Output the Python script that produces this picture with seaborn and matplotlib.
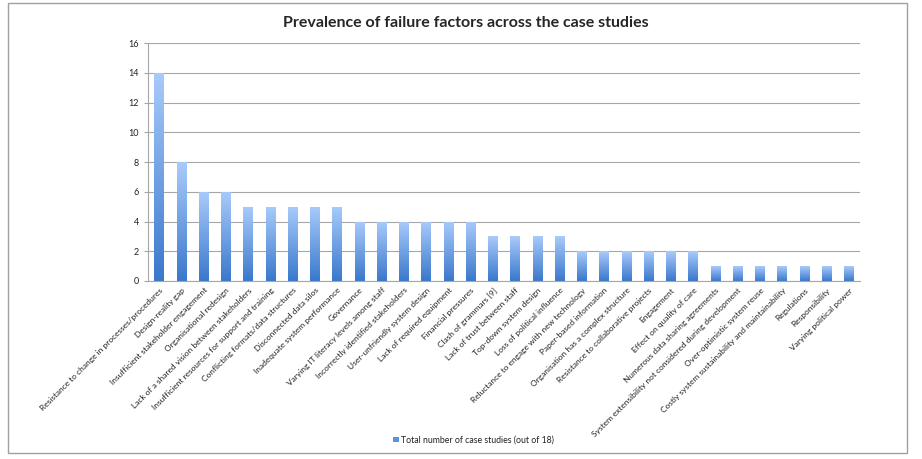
import numpy as np
import pandas as pd
import matplotlib
matplotlib.use('Agg')
import matplotlib.pyplot as plt
import seaborn as sns
from matplotlib.colors import LinearSegmentedColormap
from matplotlib.patches import Rectangle

factors = [
    'Resistance to change in processes/procedures',
    'Design-reality gap',
    'Insufficient stakeholder engagement',
    'Organisational redesign',
    'Lack of a shared vision between stakeholders',
    'Insufficient resources for support and training',
    'Conflicting formats/data structures',
    'Disconnected data silos',
    'Inadequate system performance',
    'Governance',
    'Varying IT literacy levels among staff',
    'Incorrectly identified stakeholders',
    'User-unfriendly system design',
    'Lack of required equipment',
    'Financial pressures',
    'Clash of grammars [9]',
    'Lack of trust between staff',
    'Top-down system design',
    'Loss of political influence',
    'Reluctance to engage with new technology',
    'Paper-based information',
    'Organisation has a complex structure',
    'Resistance to collaborative projects',
    'Engagement',
    'Effect on quality of care',
    'Numerous data sharing agreements',
    'System extensibility not considered during development',
    'Over-optimistic system reuse',
    'Costly system sustainability and maintainability',
    'Regulations',
    'Responsibility',
    'Varying political power',
]
case_counts = [14, 8, 6, 6, 5, 5, 5, 5, 5, 4, 4, 4, 4, 4, 4,
               3, 3, 3, 3, 2, 2, 2, 2, 2, 2, 1, 1, 1, 1, 1, 1, 1]

df = pd.DataFrame({'factor': factors, 'count': case_counts})

sns.set_style('white')
plt.rcParams['font.family'] = ['Lato', 'DejaVu Sans']

fig = plt.figure(figsize=(9.22, 4.59), dpi=100)
ax = fig.add_axes([0.1605, 0.3878, 0.7723, 0.5185])

sns.barplot(data=df, x='factor', y='count', color='#4f8ad9', width=0.42, ax=ax)

# gradient fill on each bar (light top, darker bottom)
cmap = LinearSegmentedColormap.from_list('g', ['#3a78cc', '#a9cbfb'])
grad = np.linspace(0, 1, 256).reshape(-1, 1)
for bar in ax.patches:
    x0, y0 = bar.get_x(), bar.get_y()
    w, h = bar.get_width(), bar.get_height()
    bar.set_facecolor('none')
    bar.set_edgecolor('none')
    im = ax.imshow(grad, cmap=cmap, origin='lower', aspect='auto',
                   extent=[x0, x0 + w, y0, y0 + h], zorder=2)
    im.set_clip_path(bar)

ax.set_xlim(-0.5, len(factors) - 0.5)
ax.set_ylim(0, 16)
ax.set_yticks(range(0, 17, 2))
ax.yaxis.grid(True, color='#a6a6a6', linewidth=0.8)
ax.set_axisbelow(True)

ax.set_xticks(range(len(factors)))
ax.set_xticklabels(factors, rotation=45, ha='right', rotation_mode='anchor',
                   fontsize=6.0, color='#222222')
ax.tick_params(axis='x', length=0, pad=4)
ax.set_xticks(np.arange(-0.5, len(factors), 1), minor=True)
ax.tick_params(axis='x', which='minor', length=3, color='#a6a6a6', width=0.8)
ax.tick_params(axis='y', labelsize=6.5, length=3, color='#a6a6a6', width=0.8,
               left=True, labelcolor='#222222')

for s in ['top', 'right']:
    ax.spines[s].set_visible(False)
for s in ['left', 'bottom']:
    ax.spines[s].set_color('#a6a6a6')
    ax.spines[s].set_linewidth(0.8)

ax.set_xlabel('')
ax.set_ylabel('')

fig.suptitle('Prevalence of failure factors across the case studies',
             fontsize=11.5, fontweight='bold', y=0.965, x=0.505)

# legend
fig.patches.append(Rectangle((0.4265, 0.036), 0.006, 0.012, transform=fig.transFigure,
                             facecolor='#5b93de', edgecolor='none'))
fig.text(0.4345, 0.042, 'Total number of case studies (out of 18)', fontsize=6.3,
         va='center', ha='left', color='#222222')

# outer border
fig.patches.append(Rectangle((0.009, 0.013), 0.975, 0.98, transform=fig.transFigure,
                             fill=False, edgecolor='#a0a0a0', linewidth=1.0))

fig.savefig('out.png', dpi=100)
